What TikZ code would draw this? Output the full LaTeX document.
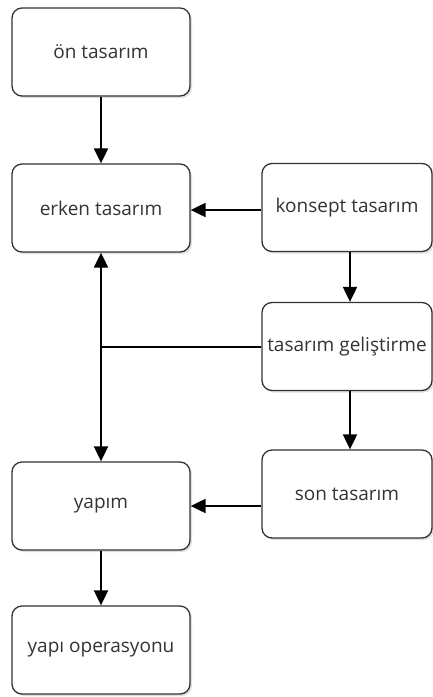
\documentclass[tikz,border=0pt]{standalone}
\usepackage{fontspec}
\setmainfont{Open Sans}
\usetikzlibrary{arrows.meta,shadows}
\begin{document}
\begin{tikzpicture}[x=1pt,y=-1pt,
  box/.style={draw=black!80, line width=1.3pt, rounded corners=10pt, fill=white,
    drop shadow={opacity=0.25, shadow xshift=2pt, shadow yshift=-2pt},
    font=\fontsize{19}{22}\selectfont, text=black!80, inner sep=0pt},
  lbox/.style={box, minimum width=178pt, minimum height=88pt},
  rbox/.style={box, minimum width=170pt, minimum height=88pt},
  arr/.style={line width=2pt, -{Triangle[width=14pt,length=15pt]}},
  ln/.style={line width=2pt}]
\useasboundingbox (0,0) rectangle (433,697);
\node[lbox] (on) at (101,52) {ön tasarım};
\node[lbox] (erken) at (101,208) {erken tasarım};
\node[lbox] (yapim) at (101,506) {yapım};
\node[lbox] (yapiop) at (101,650) {yapı operasyonu};
\node[rbox] (konsept) at (347,207.5) {konsept tasarım};
\node[rbox] (gelis) at (347,346.5) {tasarım geliştirme};
\node[rbox] (son) at (347,494) {son tasarım};
\coordinate (j) at (erken.south |- gelis.west);
\draw[arr] (on) -- (erken);
\draw[arr] (konsept.west |- 0,210) -- (erken.east |- 0,210);
\draw[arr] ([xshift=3pt]konsept.south) -- ([xshift=3pt]gelis.north);
\draw[arr] ([xshift=3pt]gelis.south) -- ([xshift=3pt]son.north);
\draw[ln] (gelis.west) -- (j);
\draw[arr] (j) -- (erken.south);
\draw[arr] (j) -- (yapim.north);
\draw[arr] (son.west |- yapim.east) -- (yapim.east);
\draw[arr] (yapim) -- (yapiop);
\end{tikzpicture}
\end{document}
